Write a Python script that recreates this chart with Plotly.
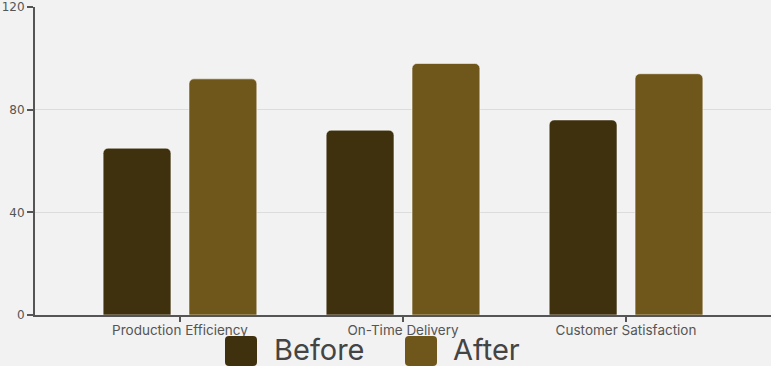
import plotly.graph_objects as go

categories = ["Production Efficiency", "On-Time Delivery", "Customer Satisfaction"]
before = [65, 72, 76]
after = [92, 98, 94]
series_names = ["Before", "After"]
colors = ["#3F310E", "#6F561A"]
y_ticks = [0, 40, 80, 120]

W, H = 771, 366
ml, mr, mt, mb = 35, 0, 7, 51
pw, ph = W - ml - mr, H - mt - mb

fig = go.Figure()
for name, vals, col in zip(series_names, [before, after], colors):
    fig.add_trace(go.Bar(
        x=categories, y=vals, name=name,
        marker=dict(color=col, line=dict(color="rgba(255,255,255,0.55)", width=1)),
        showlegend=False,
    ))

def px2paper(x, y):
    return (x - ml) / pw, (H - mb - y) / ph

def rounded(x0, y0, x1, y1, r):
    def P(x, y):
        a, b = px2paper(x, y)
        return f"{a:.5f},{b:.5f}"
    return (f"M{P(x0+r,y0)} L{P(x1-r,y0)} Q{P(x1,y0)} {P(x1,y0+r)} "
            f"L{P(x1,y1-r)} Q{P(x1,y1)} {P(x1-r,y1)} L{P(x0+r,y1)} "
            f"Q{P(x0,y1)} {P(x0,y1-r)} L{P(x0,y0+r)} Q{P(x0,y0)} {P(x0+r,y0)} Z")

legend_pos = [(225, 272), (405, 451)]
for (sx, tx), name, col in zip(legend_pos, series_names, colors):
    fig.add_shape(type="path", xref="paper", yref="paper",
                  path=rounded(sx, 336, sx + 32, 366, 4),
                  fillcolor=col, line=dict(width=0))
    ax, ay = px2paper(tx, 349)
    fig.add_annotation(x=ax, y=ay, xref="paper", yref="paper", text=name,
                       showarrow=False, xanchor="left", yanchor="middle",
                       font=dict(size=29, color="#444444", family="Inter"))

fig.update_layout(
    width=W, height=H,
    margin=dict(l=ml, r=mr, t=mt, b=mb),
    paper_bgcolor="#F2F2F2", plot_bgcolor="#F2F2F2",
    barmode="group", bargap=0.23, bargroupgap=0.21, barcornerradius=5,
    font=dict(family="Inter", color="#555555", size=12),
)
fig.update_xaxes(
    range=[-0.65, 2.65], showline=True, linecolor="#555555", linewidth=2,
    ticks="outside", ticklen=5, tickwidth=2, tickcolor="#555555",
    ticklabelstandoff=-3,
    tickfont=dict(size=13.5, color="#555555", family="Inter"), showgrid=False,
)
fig.update_yaxes(
    range=[0, 120.001], tickvals=y_ticks, showline=True, linecolor="#555555", linewidth=2,
    ticks="outside", ticklen=6, tickwidth=2, tickcolor="#555555",
    gridcolor="#DCDCDC", gridwidth=1, zeroline=False,
    tickfont=dict(size=12, color="#555555", family="DejaVu Sans"),
)
fig.write_html("out.html")
